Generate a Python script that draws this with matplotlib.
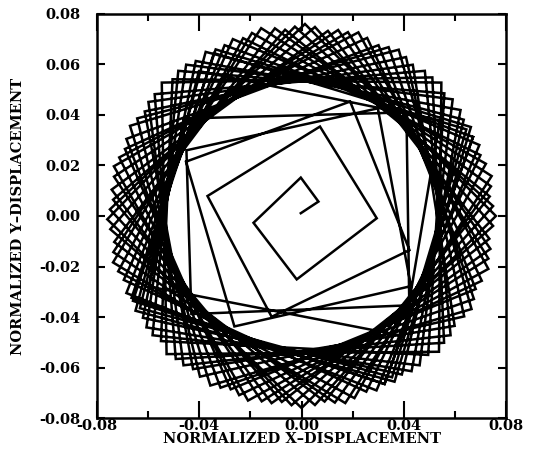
import numpy as np
import matplotlib
matplotlib.use('Agg')
import matplotlib.pyplot as plt
from matplotlib.ticker import MultipleLocator, FormatStrFormatter

# inner square spiral, vertices in normalized units
spiral_x = [-0.0003, 0.0066, -0.0003, -0.0188, -0.0019, 0.0294,
            0.0072, -0.0368, -0.0117, 0.0422, 0.0190, -0.0452]
spiral_y = [0.0011, 0.0057, 0.0152, -0.0027, -0.0251, -0.0009,
            0.0354, 0.0079, -0.0399, -0.0135, 0.0453, 0.0215]

# turning points while the orbit settles: angle [deg], radius
settle_deg = [239, 327, 55, 150, 222, 320, 45, 140, 205, 310, 35, 125]
settle_r = [0.051, 0.051, 0.052, 0.052, 0.058, 0.055, 0.058, 0.060,
            0.066, 0.062, 0.066, 0.070]

# saturated orbit: four corners per loop, angle [deg]
loop_deg = [
    [210, 299, 28, 118], [207, 296, 25, 114], [204, 293, 22, 111],
    [200, 290, 19, 108], [197, 286, 16, 105], [194, 283, 12, 102],
    [191, 280, 9, 98], [188, 277, 6, 95], [184, 274, 3, 92],
    [181, 270, 0, 89], [178, 267, 357, 86], [175, 264, 353, 82],
    [172, 261, 350, 79], [168, 258, 347, 76], [165, 254, 344, 73],
    [162, 251, 340, 70], [159, 248, 337, 66], [156, 245, 334, 63],
    [152, 242, 331, 60], [149, 238, 328, 57], [146, 235, 324, 54],
    [143, 232, 321, 50], [140, 229, 318, 47], [136, 226, 315, 44],
    [133, 222, 312, 41], [130, 219, 308, 38], [127, 216, 305, 34],
    [124, 213, 302, 31], [120, 210, 299, 28], [117, 206, 296, 25],
]
# corner radius of each loop
loop_r = [0.073, 0.074, 0.075, 0.074, 0.075, 0.076, 0.075, 0.074, 0.075, 0.076,
          0.075, 0.074, 0.075, 0.075, 0.076, 0.075, 0.074, 0.075, 0.076, 0.075,
          0.074, 0.075, 0.075, 0.076, 0.074, 0.075, 0.075, 0.074, 0.075, 0.074]

deg = np.concatenate([settle_deg, np.ravel(loop_deg)])
rad = np.concatenate([settle_r, np.repeat(loop_r, 4)])
th = np.radians(deg)
x = np.concatenate([spiral_x, rad * np.cos(th)])
y = np.concatenate([spiral_y, rad * np.sin(th)])

plt.rcParams['font.family'] = 'DejaVu Serif'
plt.rcParams['font.weight'] = 'bold'

fig = plt.figure(figsize=(5.39, 4.62), dpi=100)
ax = fig.add_axes([0.18, 0.095, 0.759, 0.875])

ax.plot(x, y, color='black', lw=1.8, solid_joinstyle='miter')

ax.set_xlim(-0.08, 0.08)
ax.set_ylim(-0.08, 0.08)
ax.xaxis.set_major_locator(MultipleLocator(0.04))
ax.xaxis.set_minor_locator(MultipleLocator(0.02))
ax.yaxis.set_major_locator(MultipleLocator(0.02))
ax.xaxis.set_major_formatter(FormatStrFormatter('%.2f'))
ax.yaxis.set_major_formatter(FormatStrFormatter('%.2f'))
ax.tick_params(axis='x', which='major', direction='in', length=12, width=1.5,
               top=True, pad=1, labelsize=10.5)
ax.tick_params(axis='x', which='minor', direction='in', length=5, width=1.5, top=True)
ax.tick_params(axis='y', which='major', direction='in', length=6, width=1.5,
               right=True, pad=12, labelsize=10.5)
for s in ax.spines.values():
    s.set_linewidth(1.8)

ax.set_xlabel('NORMALIZED X\u2013DISPLACEMENT', fontsize=10.5, fontweight='bold', labelpad=-1)
ax.set_ylabel('NORMALIZED Y\u2013DISPLACEMENT', fontsize=10.5, fontweight='bold', labelpad=10)

fig.savefig('out.png', dpi=100)
